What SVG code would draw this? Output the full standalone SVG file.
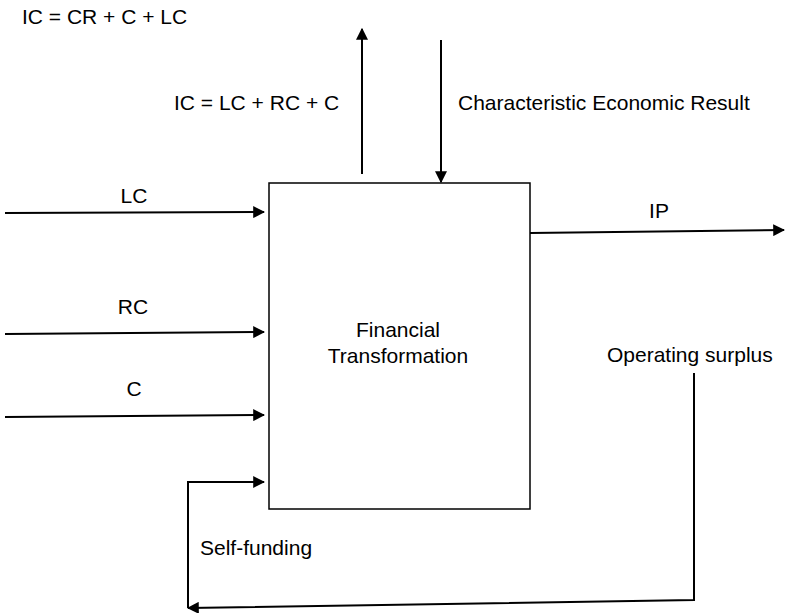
<svg xmlns="http://www.w3.org/2000/svg" width="785" height="613" viewBox="0 0 785 613">
  <style>
    text { font-family: "Liberation Sans", Arial, sans-serif; font-size: 21px; fill: #000; }
    .line { stroke: #000; stroke-width: 2; fill: none; }
    .box { stroke: #000; stroke-width: 1.5; fill: #fff; }
  </style>
  <defs>
    <marker id="arrow" viewBox="0 0 10 10" refX="9" refY="5" markerWidth="6" markerHeight="6" markerUnits="strokeWidth" orient="auto">
      <path d="M0,0 L10,5 L0,10 Z" fill="#000"/>
    </marker>
  </defs>
  <rect width="785" height="613" fill="#fff"/>

  <g id="connectors">
    <line class="line" x1="5" y1="213" x2="264" y2="212" marker-end="url(#arrow)"/>
    <line class="line" x1="5" y1="334" x2="264" y2="332" marker-end="url(#arrow)"/>
    <line class="line" x1="5" y1="417" x2="264" y2="415" marker-end="url(#arrow)"/>
    <line class="line" x1="362" y1="174" x2="362" y2="29" marker-end="url(#arrow)"/>
    <line class="line" x1="441" y1="40" x2="441" y2="182" marker-end="url(#arrow)"/>
    <line class="line" x1="530" y1="233" x2="784" y2="230" marker-end="url(#arrow)"/>
    <polyline class="line" points="694,373 694,600 188,608" marker-end="url(#arrow)"/>
    <polyline class="line" points="188,608 188,482 264,482" marker-end="url(#arrow)"/>
  </g>

  <g id="transformation">
    <rect class="box" x="269" y="183" width="261" height="326"/>
    <text x="398" y="337" text-anchor="middle">Financial</text>
    <text x="398" y="363" text-anchor="middle">Transformation</text>
  </g>

  <g id="labels">
    <text x="22" y="24">IC = CR + C + LC</text>
    <text x="174" y="110">IC = LC + RC + C</text>
    <text x="458" y="110">Characteristic Economic Result</text>
    <text x="134" y="203" text-anchor="middle">LC</text>
    <text x="133" y="314" text-anchor="middle">RC</text>
    <text x="134" y="396" text-anchor="middle">C</text>
    <text x="659" y="218" text-anchor="middle">IP</text>
    <text x="607" y="362">Operating surplus</text>
    <text x="200" y="555">Self-funding</text>
  </g>
</svg>
